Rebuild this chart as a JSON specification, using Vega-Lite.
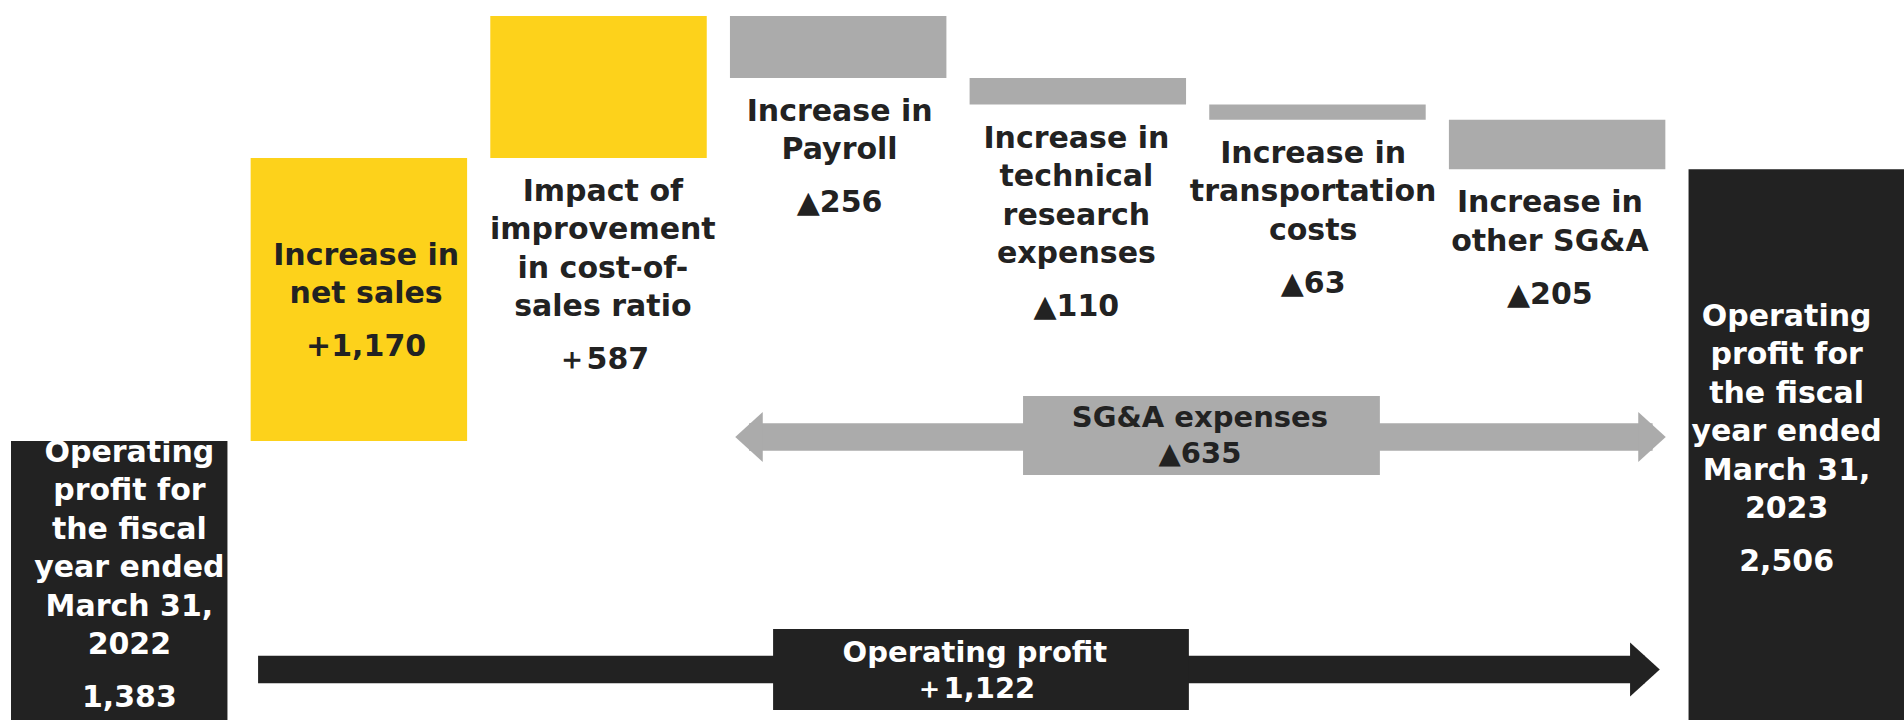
{
  "$schema": "https://vega.github.io/schema/vega-lite/v6.json",
  "width": 1894,
  "height": 720,
  "autosize": {"type": "none"},
  "padding": {"left": 11, "top": 0, "right": 0, "bottom": 0},
  "background": "white",
  "config": {"view": {"stroke": null}, "text": {"font": "DejaVu Sans", "fontWeight": "bold"}},
  "datasets": {
    "bars": [
      {"cat": "c1", "label": ["Operating", "profit for", "the fiscal", "year ended", "March 31,", "2022"], "val": "1,383", "lo": 0, "hi": 1383, "kind": "total", "place": "in"},
      {"cat": "c2", "label": ["Increase in", "net sales"], "val": "+1,170", "lo": 1383, "hi": 2553, "kind": "up", "place": "in"},
      {"cat": "c3", "label": ["Impact of", "improvement", "in cost-of-", "sales ratio"], "val": "＋587", "lo": 2553, "hi": 3140, "kind": "up", "place": "below"},
      {"cat": "c4", "label": ["Increase in", "Payroll"], "val": "▲256", "lo": 2884, "hi": 3140, "kind": "down", "place": "below"},
      {"cat": "c5", "label": ["Increase in", "technical", "research", "expenses"], "val": "▲110", "lo": 2774, "hi": 2884, "kind": "down", "place": "below"},
      {"cat": "c6", "label": ["Increase in", "transportation", "costs"], "val": "▲63", "lo": 2711, "hi": 2774, "kind": "down", "place": "below"},
      {"cat": "c7", "label": ["Increase in", "other SG&A"], "val": "▲205", "lo": 2506, "hi": 2711, "kind": "down", "place": "below"},
      {"cat": "c8", "label": ["Operating", "profit for", "the fiscal", "year ended", "March 31,", "2023"], "val": "2,506", "lo": 0, "hi": 2506, "kind": "total", "place": "in"}
    ],
    "shafts": [
      {"arrow": "sga", "u1": 3.08, "u2": 6.85, "v": 1400},
      {"arrow": "op", "u1": 1.031, "u2": 6.818, "v": 438.6}
    ],
    "heads": [
      {"arrow": "sga", "dir": "left", "u": 3.0795, "v": 1400},
      {"arrow": "sga", "dir": "right", "u": 6.8475, "v": 1400},
      {"arrow": "op", "dir": "right", "u": 6.818, "v": 438.6}
    ],
    "boxes": [
      {"arrow": "sga", "u1": 4.223, "u2": 5.712, "v1": 1243, "v2": 1569, "t": ["SG&A expenses", "▲635"], "tu": 4.961, "tv": 1441},
      {"arrow": "op", "u1": 3.18, "u2": 4.915, "v1": 271, "v2": 606, "t": ["Operating profit", "＋1,122"], "tu": 4.022, "tv": 470}
    ]
  },
  "resolve": {"scale": {"x": "independent"}},
  "layer": [
    {
      "data": {"name": "bars"},
      "mark": {"type": "bar", "clip": true},
      "encoding": {
        "x": {"field": "cat", "type": "nominal", "axis": null, "scale": {"domain": ["c1","c2","c3","c4","c5","c6","c7","c8"], "paddingInner": 0.0968, "paddingOuter": 0}},
        "y": {"field": "lo", "type": "quantitative", "axis": null, "scale": {"domain": [230, 3206], "nice": false, "zero": false}},
        "y2": {"field": "hi"},
        "color": {"field": "kind", "type": "nominal", "legend": null, "scale": {"domain": ["total", "up", "down"], "range": ["#222222", "#FDD21B", "#ABABAB"]}}
      }
    },
    {
      "data": {"name": "bars"},
      "transform": [{"filter": "datum.place === 'in'"}, {"calculate": "(max(datum.lo, 290) + datum.hi) / 2", "as": "mid"}],
      "mark": {"type": "text", "fontSize": 30, "lineHeight": 38.5, "baseline": "alphabetic", "align": "center", "dy": {"expr": "11 - ((length(datum.label) - 1) * 38.5 + 53) / 2"}},
      "encoding": {
        "x": {"field": "cat", "type": "nominal", "axis": null, "scale": {"domain": ["c1","c2","c3","c4","c5","c6","c7","c8"], "paddingInner": 0.0968, "paddingOuter": 0}},
        "y": {"field": "mid", "type": "quantitative", "axis": null, "scale": {"domain": [230, 3206], "nice": false, "zero": false}},
        "text": {"field": "label"},
        "color": {"condition": {"test": "datum.kind === 'total'", "value": "#FFFFFF"}, "value": "#222222"}
      }
    },
    {
      "data": {"name": "bars"},
      "transform": [{"filter": "datum.place === 'in'"}, {"calculate": "(max(datum.lo, 290) + datum.hi) / 2", "as": "mid"}],
      "mark": {"type": "text", "fontSize": 30, "baseline": "alphabetic", "align": "center", "dy": {"expr": "11 + ((length(datum.label) - 1) * 38.5 + 53) / 2"}},
      "encoding": {
        "x": {"field": "cat", "type": "nominal", "axis": null, "scale": {"domain": ["c1","c2","c3","c4","c5","c6","c7","c8"], "paddingInner": 0.0968, "paddingOuter": 0}},
        "y": {"field": "mid", "type": "quantitative", "axis": null, "scale": {"domain": [230, 3206], "nice": false, "zero": false}},
        "text": {"field": "val"},
        "color": {"condition": {"test": "datum.kind === 'total'", "value": "#FFFFFF"}, "value": "#222222"}
      }
    },
    {
      "data": {"name": "bars"},
      "transform": [{"filter": "datum.place === 'below'"}],
      "mark": {"type": "text", "fontSize": 30, "lineHeight": 38.5, "baseline": "alphabetic", "align": "center", "dy": 43, "color": "#222222"},
      "encoding": {
        "x": {"field": "cat", "type": "nominal", "axis": null, "scale": {"domain": ["c1","c2","c3","c4","c5","c6","c7","c8"], "paddingInner": 0.0968, "paddingOuter": 0}},
        "y": {"field": "lo", "type": "quantitative", "axis": null, "scale": {"domain": [230, 3206], "nice": false, "zero": false}},
        "text": {"field": "label"}
      }
    },
    {
      "data": {"name": "bars"},
      "transform": [{"filter": "datum.place === 'below'"}],
      "mark": {"type": "text", "fontSize": 30, "baseline": "alphabetic", "align": "center", "dy": {"expr": "43 + (length(datum.label) - 1) * 38.5 + 53"}, "color": "#222222"},
      "encoding": {
        "x": {"field": "cat", "type": "nominal", "axis": null, "scale": {"domain": ["c1","c2","c3","c4","c5","c6","c7","c8"], "paddingInner": 0.0968, "paddingOuter": 0}},
        "y": {"field": "lo", "type": "quantitative", "axis": null, "scale": {"domain": [230, 3206], "nice": false, "zero": false}},
        "text": {"field": "val"}
      }
    },
    {
      "data": {"name": "shafts"},
      "mark": {"type": "rule", "strokeWidth": 27.5},
      "encoding": {
        "x": {"field": "u1", "type": "quantitative", "axis": null, "scale": {"domain": [0, 7.9032], "nice": false, "zero": false}},
        "x2": {"field": "u2"},
        "y": {"field": "v", "type": "quantitative", "axis": null, "scale": {"domain": [230, 3206], "nice": false, "zero": false}},
        "color": {"condition": {"test": "datum.arrow === 'sga'", "value": "#ABABAB"}, "value": "#222222"}
      }
    },
    {
      "data": {"name": "heads"},
      "mark": {"type": "point", "filled": true, "opacity": 1, "strokeWidth": 0},
      "encoding": {
        "x": {"field": "u", "type": "quantitative", "axis": null, "scale": {"domain": [0, 7.9032], "nice": false, "zero": false}},
        "y": {"field": "v", "type": "quantitative", "axis": null, "scale": {"domain": [230, 3206], "nice": false, "zero": false}},
        "shape": {"condition": {"test": "datum.dir === 'left'", "value": "M0.55,-1L-0.55,0L0.55,1Z"}, "value": "M-0.55,-1L0.55,0L-0.55,1Z"},
        "size": {"condition": {"test": "datum.arrow === 'sga'", "value": 2500}, "value": 2916},
        "color": {"condition": {"test": "datum.arrow === 'sga'", "value": "#ABABAB"}, "value": "#222222"}
      }
    },
    {
      "data": {"name": "boxes"},
      "mark": {"type": "rect"},
      "encoding": {
        "x": {"field": "u1", "type": "quantitative", "axis": null, "scale": {"domain": [0, 7.9032], "nice": false, "zero": false}},
        "x2": {"field": "u2"},
        "y": {"field": "v1", "type": "quantitative", "axis": null, "scale": {"domain": [230, 3206], "nice": false, "zero": false}},
        "y2": {"field": "v2"},
        "color": {"condition": {"test": "datum.arrow === 'sga'", "value": "#ABABAB"}, "value": "#222222"}
      }
    },
    {
      "data": {"name": "boxes"},
      "mark": {"type": "text", "fontSize": 29, "lineHeight": 36, "baseline": "alphabetic", "align": "center"},
      "encoding": {
        "x": {"field": "tu", "type": "quantitative", "axis": null, "scale": {"domain": [0, 7.9032], "nice": false, "zero": false}},
        "y": {"field": "tv", "type": "quantitative", "axis": null, "scale": {"domain": [230, 3206], "nice": false, "zero": false}},
        "text": {"field": "t"},
        "color": {"condition": {"test": "datum.arrow === 'sga'", "value": "#222222"}, "value": "#FFFFFF"}
      }
    }
  ]
}
